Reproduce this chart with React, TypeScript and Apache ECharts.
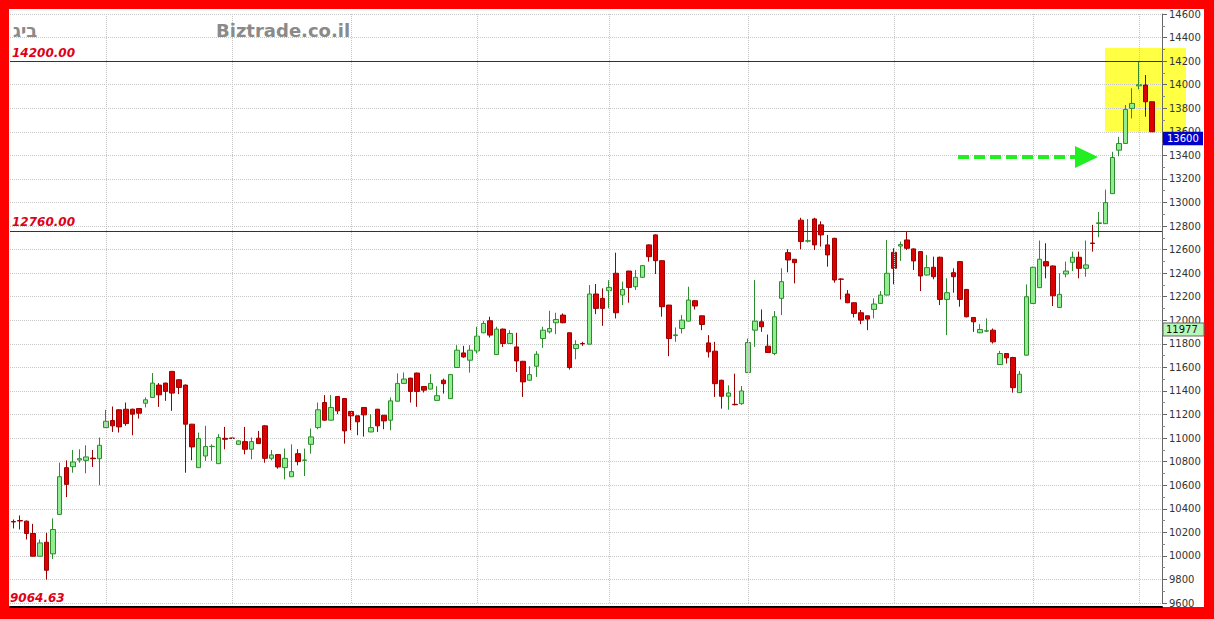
import React, { useEffect, useRef } from "react";
import * as echarts from "echarts";

const opens = [10292,10300,10295,10190,9997,10116,10017,10352,10749,10757,10814,10811,10830,10825,11089,11149,11240,11245,11245,11251,11296,11345,11450,11467,11566,11495,11450,11118,10749,10848,10928,10783,10998,11000,10947,10970,10905,10999,11104,10828,10860,10749,10672,10868,10811,10947,11089,11302,11152,11353,11336,11226,11189,11260,11052,11245,11194,11152,11313,11464,11509,11552,11438,11416,11320,11491,11335,11599,11723,11661,11740,11894,11996,11709,11925,11803,11774,11652,11491,11610,11845,11902,11979,12044,11894,11760,11803,11797,12223,12186,12251,12399,12214,12418,12285,12365,12640,12725,12506,12129,11870,11930,11993,12166,12038,11808,11738,11491,11355,11287,11292,11556,11916,11987,11780,11718,12186,12574,12518,12850,12672,12860,12810,12640,12696,12350,12223,12149,12064,12038,12092,12143,12214,12577,12630,12682,12606,12583,12384,12450,12535,12177,12404,12498,12262,12024,11894,11908,11916,11624,11718,11684,11386,11704,12143,12277,12498,12461,12109,12393,12492,12535,12441,12656,12822,12820,13075,13444,13501,13799,13990,13997,13855];
const closes = [10288,10296,10190,9997,10110,9878,10224,10672,10607,10797,10825,10840,10825,10939,11143,11104,11095,11123,11203,11211,11325,11467,11367,11396,11382,11430,11118,10925,10996,10928,10930,11004,10990,10998,10976,10905,10970,10953,10828,10857,10755,10828,10715,10800,10814,11010,11240,11152,11260,11231,11061,11189,11138,11197,11089,11104,11146,11316,11464,11501,11396,11396,11407,11464,11360,11462,11539,11746,11689,11746,11865,11973,11874,11925,11803,11888,11655,11477,11539,11712,11916,11930,12007,11979,11599,11794,11800,12223,12101,12101,12279,12064,12262,12279,12365,12464,12540,12506,12115,11845,11876,12001,12172,12121,11964,11732,11462,11355,11383,11283,11400,11811,11993,11945,11726,12030,12328,12512,12489,12668,12675,12640,12725,12555,12342,12348,12149,12058,12001,12010,12138,12214,12399,12441,12643,12611,12504,12376,12447,12370,12177,12234,12370,12177,12030,11987,11922,11911,11817,11718,11681,11428,11542,12200,12450,12518,12461,12208,12220,12418,12535,12441,12470,12652,12827,12999,13382,13501,13790,13841,14000,13855,13600];
const lows = [10233,10224,10139,9997,9997,9798,9974,10352,10499,10706,10791,10701,10755,10599,11089,11052,11047,11104,11024,11166,11260,11345,11265,11316,11231,11373,10706,10811,10749,10806,10806,10783,10905,10995,10945,10862,10820,10950,10791,10811,10740,10650,10672,10769,10678,10868,11075,11147,11150,11203,10953,11067,11024,11013,11050,11052,11075,11067,11310,11462,11302,11265,11387,11414,11318,11377,11333,11595,11681,11556,11718,11890,11854,11705,11774,11800,11562,11349,11488,11519,11766,11888,11882,11975,11582,11669,11783,11797,12052,11953,12101,12016,12129,12149,12257,12360,12498,12393,12030,11695,11817,11888,11990,12092,11916,11684,11349,11250,11241,11278,11282,11553,11774,11902,11724,11703,12044,12407,12313,12603,12660,12597,12626,12455,12319,12177,12145,12024,11967,11916,12016,12140,12212,12305,12504,12597,12427,12248,12380,12348,12129,11874,12234,12115,12024,11902,11890,11900,11803,11621,11633,11386,11384,11700,12140,12275,12356,12121,12105,12365,12418,12356,12370,12583,12706,12818,13073,13393,13498,13713,13960,13728,13600];
const highs = [10309,10343,10300,10272,10139,10196,10318,10791,10811,10899,10905,10939,10899,11004,11240,11268,11245,11302,11250,11255,11345,11552,11467,11470,11570,11500,11455,11120,11047,11104,10947,11033,11095,11002,10980,11095,11004,11061,11110,10899,10865,10911,10947,10905,10911,11081,11302,11365,11365,11355,11340,11228,11190,11262,11203,11248,11196,11345,11549,11557,11512,11555,11440,11543,11440,11505,11545,11789,11783,11789,11945,11996,12030,11945,11930,11916,11894,11655,11610,11738,11945,12081,12064,12058,11896,11831,11817,12299,12308,12271,12340,12574,12328,12420,12427,12470,12645,12730,12510,12130,11939,12044,12285,12170,12040,11874,11817,11495,11448,11547,11442,11845,12342,12092,11879,12078,12441,12603,12520,12870,12860,12870,12840,12725,12700,12356,12257,12152,12087,12040,12186,12248,12682,12611,12668,12753,12610,12585,12555,12540,12540,12356,12441,12500,12265,12026,11967,12016,11930,11740,11720,11690,11570,12305,12455,12677,12654,12465,12399,12498,12583,12583,12677,12810,12919,13109,13430,13557,13827,13969,14196,14082,13858];

// one session per candle, plus an empty slot at the right edge
const categories = opens.map((_, i) => String(i + 1)).concat([""]);
const monthStartSessions = ["15", "34", "52", "71", "91", "112", "134", "155", "171"];
const refLevels = [14200, 12760];
const refLabels = ["14200.00", "12760.00"];
const lowLabel = "9064.63";
const lastPrice = 13600;
const avgValue = 11977;
const yMin = 9600;
const yMax = 14600;
const yStep = 200;

const RED_TXT = "#e0001a";

export default function App() {
  const ref = useRef<HTMLDivElement>(null);
  useEffect(() => {
    const chart = echarts.init(ref.current!, null, { renderer: "svg" });
    const data = opens.map((o, i) => [o, closes[i], lows[i], highs[i]]);
    chart.setOption({
      animation: false,
      backgroundColor: "#ff0000",
      grid: { left: 10, right: 52, top: 14, bottom: 16, containLabel: false },
      xAxis: {
        type: "category",
        data: categories,
        boundaryGap: true,
        offset: 4,
        axisLine: { onZero: false, lineStyle: { color: "#000", width: 2 } },
        axisTick: { show: false },
        axisLabel: { show: false },
        splitLine: { show: false },
      },
      yAxis: {
        type: "value",
        position: "right",
        min: yMin,
        max: yMax,
        interval: yStep,
        z: 3,
        axisLine: { show: true, lineStyle: { color: "#666", width: 1 } },
        axisTick: { show: true, length: 5, lineStyle: { color: "#666" } },
        minorTick: { show: true, splitNumber: 2, length: 3, lineStyle: { color: "#888" } },
        axisLabel: {
          color: "#333",
          fontSize: 10,
          fontFamily: "DejaVu Sans",
          margin: 7,
          formatter: (v: number) => String(v),
        },
        splitLine: { show: true, lineStyle: { color: "#c8c8c8", type: "dotted", width: 1 } },
      },
      series: [
        {
          type: "candlestick",
          data,
          barWidth: 5,
          z: 4,
          itemStyle: {
            color: "#90ee90",
            color0: "#dd0000",
            borderColor: "#2e8b2e",
            borderColor0: "#9a0000",
            borderColorDoji: "#333",
            borderWidth: 1,
          },
          markLine: {
            silent: true,
            symbol: "none",
            animation: false,
            label: { show: false },
            data: [
              ...monthStartSessions.map((c) => ({
                xAxis: c,
                lineStyle: { color: "#c4c4c4", type: "dotted", width: 1 },
              })),
              ...refLevels.map((v) => ({
                yAxis: v,
                lineStyle: { color: "#333", type: "solid", width: 1 },
              })),
            ],
          },
        },
      ],
    });

    const py = (v: number) => chart.convertToPixel({ yAxisIndex: 0 }, v) as number;
    const redFont = {
      fill: RED_TXT,
      fontSize: 12,
      fontStyle: "italic",
      fontWeight: "bold",
      fontFamily: "DejaVu Sans",
      verticalAlign: "middle",
      align: "left",
    };
    const yLast = py(lastPrice);
    const yAvg = py(avgValue);
    chart.setOption({
      graphic: [
        { type: "rect", z: -100, shape: { x: 9, y: 9, width: 1195, height: 598 }, style: { fill: "#ffffff" } },
        { type: "rect", z: 1, shape: { x: 1105, y: 48, width: 81, height: yLast - 48 }, style: { fill: "#ffff44" } },
        { type: "text", z: 10, x: 13, y: 30, style: { text: "ביג", fill: "#8a8a8a", fontSize: 18, fontWeight: "bold", fontFamily: "DejaVu Sans", verticalAlign: "middle" } },
        { type: "text", z: 10, x: 216, y: 30, style: { text: "Biztrade.co.il", fill: "#8a8a8a", fontSize: 18, fontWeight: "bold", fontFamily: "DejaVu Sans", verticalAlign: "middle" } },
        ...refLevels.map((v, i) => ({ type: "text", z: 10, x: 12, y: py(v) - 8.5, style: { text: refLabels[i], ...redFont } })),
        { type: "text", z: 10, x: 10, y: 598, style: { text: lowLabel, ...redFont } },
        { type: "line", z: 10, shape: { x1: 958, y1: 157, x2: 1077, y2: 157 }, style: { stroke: "#22ee22", lineWidth: 4, lineDash: [11, 5] } },
        { type: "polygon", z: 10, shape: { points: [[1075, 146], [1098, 157], [1075, 168]] }, style: { fill: "#22ee22" } },
        { type: "rect", z: 20, shape: { x: 1163, y: yLast, width: 40, height: 13.5 }, style: { fill: "#0000cc" } },
        { type: "text", z: 21, x: 1167, y: yLast + 7, style: { text: String(lastPrice), fill: "#ffffff", fontSize: 10, fontFamily: "DejaVu Sans", verticalAlign: "middle" } },
        { type: "rect", z: 20, shape: { x: 1163, y: yAvg, width: 41, height: 13 }, style: { fill: "#b8f5b8", stroke: "#666", lineWidth: 1 } },
        { type: "text", z: 21, x: 1166, y: yAvg + 6.5, style: { text: String(avgValue), fill: "#111", fontSize: 10, fontFamily: "DejaVu Sans", verticalAlign: "middle" } },
      ],
    });
    return () => chart.dispose();
  }, []);
  return (
    <div style={{ position: "fixed", left: 0, top: 0, width: 1214, height: 619 }}>
      <div ref={ref} style={{ width: 1214, height: 619 }} />
    </div>
  );
}
